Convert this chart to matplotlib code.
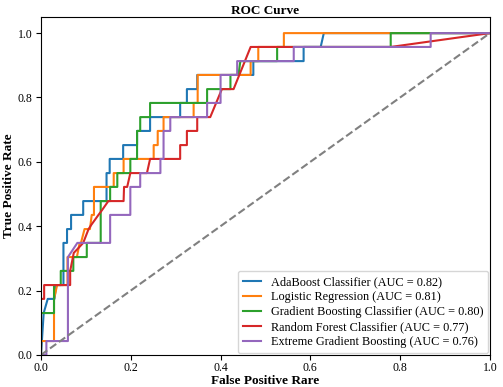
import matplotlib
matplotlib.use('Agg')
import matplotlib.pyplot as plt

plt.rcParams['font.family'] = ['Liberation Serif', 'DejaVu Serif']

# curvas ROC (fpr, tpr)
ada_fpr = [0, 0.006, 0.015, 0.030, 0.034, 0.050, 0.050, 0.058, 0.058, 0.067, 0.067, 0.094, 0.094,
           0.146, 0.146, 0.153, 0.153, 0.183, 0.183, 0.214, 0.214, 0.243, 0.243, 0.310, 0.310,
           0.325, 0.325, 0.348, 0.348, 0.473, 0.473, 0.585, 0.585, 0.623, 0.630, 1.0]
ada_tpr = [0, 0.130, 0.174, 0.174, 0.217, 0.217, 0.348, 0.348, 0.391, 0.391, 0.435, 0.435, 0.478,
           0.478, 0.565, 0.565, 0.609, 0.609, 0.652, 0.652, 0.696, 0.696, 0.739, 0.739, 0.783,
           0.783, 0.826, 0.826, 0.870, 0.870, 0.913, 0.913, 0.957, 0.957, 1.0, 1.0]

lr_fpr = [0, 0, 0.029, 0.029, 0.036, 0.059, 0.059, 0.068, 0.080, 0.086, 0.089, 0.097, 0.109,
          0.113, 0.118, 0.118, 0.162, 0.162, 0.184, 0.184, 0.251, 0.251, 0.260, 0.260, 0.273,
          0.273, 0.340, 0.340, 0.349, 0.349, 0.467, 0.467, 0.484, 0.484, 0.541, 0.541, 1.0]
lr_tpr = [0, 0.043, 0.043, 0.174, 0.217, 0.217, 0.304, 0.304, 0.304, 0.348, 0.348, 0.391, 0.391,
          0.435, 0.435, 0.522, 0.522, 0.565, 0.565, 0.609, 0.609, 0.652, 0.652, 0.696, 0.696,
          0.739, 0.739, 0.783, 0.783, 0.870, 0.870, 0.913, 0.913, 0.957, 0.957, 1.0, 1.0]

gb_fpr = [0, 0, 0.029, 0.029, 0.044, 0.044, 0.072, 0.072, 0.102, 0.102, 0.133, 0.133, 0.154,
          0.154, 0.170, 0.170, 0.199, 0.199, 0.214, 0.214, 0.221, 0.221, 0.243, 0.243, 0.370,
          0.370, 0.422, 0.422, 0.440, 0.444, 0.526, 0.526, 0.779, 0.779, 1.0]
gb_tpr = [0, 0.130, 0.130, 0.217, 0.217, 0.261, 0.261, 0.304, 0.304, 0.348, 0.348, 0.478, 0.478,
          0.522, 0.522, 0.565, 0.565, 0.609, 0.609, 0.696, 0.696, 0.739, 0.739, 0.783, 0.783,
          0.826, 0.826, 0.870, 0.870, 0.913, 0.913, 0.957, 0.957, 1.0, 1.0]

rf_fpr = [0, 0, 0.007, 0.007, 0.065, 0.065, 0.073, 0.082, 0.094, 0.106, 0.112, 0.128, 0.135,
          0.150, 0.184, 0.185, 0.192, 0.199, 0.236, 0.243, 0.310, 0.310, 0.325, 0.325, 0.348,
          0.348, 0.377, 0.403, 0.429, 0.467, 0.779, 1.0]
rf_tpr = [0, 0.174, 0.174, 0.217, 0.217, 0.261, 0.317, 0.330, 0.348, 0.391, 0.404, 0.435, 0.448,
          0.478, 0.478, 0.522, 0.522, 0.565, 0.565, 0.609, 0.609, 0.652, 0.652, 0.696, 0.696,
          0.739, 0.739, 0.826, 0.826, 0.957, 0.957, 1.0]

xgb_fpr = [0, 0.012, 0.012, 0.060, 0.060, 0.081, 0.154, 0.154, 0.199, 0.199, 0.221, 0.221, 0.266,
           0.266, 0.273, 0.273, 0.288, 0.288, 0.370, 0.370, 0.400, 0.400, 0.437, 0.437, 0.563,
           0.563, 0.868, 0.868, 1.0]
xgb_tpr = [0, 0, 0.043, 0.043, 0.304, 0.348, 0.348, 0.435, 0.435, 0.522, 0.522, 0.565, 0.565,
           0.609, 0.609, 0.696, 0.696, 0.739, 0.739, 0.783, 0.783, 0.870, 0.870, 0.913, 0.913,
           0.957, 0.957, 1.0, 1.0]

curvas = [
    (ada_fpr, ada_tpr, 'AdaBoost Classifier (AUC = 0.82)'),
    (lr_fpr, lr_tpr, 'Logistic Regression (AUC = 0.81)'),
    (gb_fpr, gb_tpr, 'Gradient Boosting Classifier (AUC = 0.80)'),
    (rf_fpr, rf_tpr, 'Random Forest Classifier (AUC = 0.77)'),
    (xgb_fpr, xgb_tpr, 'Extreme Gradient Boosting (AUC = 0.76)'),
]

fig = plt.figure(figsize=(5.03, 3.87), dpi=100)
ax = fig.add_axes([0.0815, 0.083, 0.8925, 0.873])

for fpr, tpr, etiqueta in curvas:
    ax.plot(fpr, tpr, lw=1.5, label=etiqueta)

ax.plot([0, 1], [0, 1], color='gray', linestyle='--', lw=1.5)

ax.set_xlim(0.0, 1.0)
ax.set_ylim(0.0, 1.05)
ax.tick_params(labelsize=8.5, length=3.5)
ax.tick_params(axis='x', pad=1.5)
ax.tick_params(axis='y', pad=2.5)
ax.set_xlabel('False Positive Rare', fontsize=9.5, fontweight='bold', labelpad=1)
ax.set_ylabel('True Positive Rate', fontsize=9.5, fontweight='bold', labelpad=2)
ax.set_title('ROC Curve', fontsize=9.5, fontweight='bold', pad=1.5)
ax.legend(loc='lower right', fontsize=8.8, handlelength=1.5, labelspacing=0.25,
          borderaxespad=0.15, borderpad=0.4)

fig.savefig('out.png', dpi=100)
